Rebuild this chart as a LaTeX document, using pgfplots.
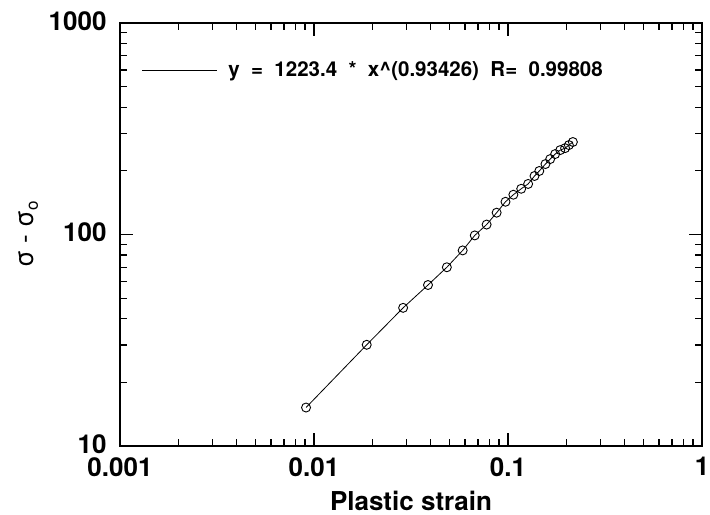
\documentclass[border=0pt]{standalone}
\usepackage{fontspec}
\setmainfont{TeX Gyre Heros}
\usepackage{pgfplots}
\pgfplotsset{compat=1.18}
\begin{document}
\begin{tikzpicture}
\begin{axis}[
  xmode=log, ymode=log,
  scale only axis, width=582pt, height=423pt,
  xmin=0.001, xmax=1, ymin=10, ymax=1000,
  xtick={0.001,0.01,0.1,1}, xticklabels={0.001,0.01,0.1,1},
  ytick={10,100,1000}, yticklabels={10,100,1000},
  minor xtick={0.002,0.003,0.004,0.005,0.006,0.007,0.008,0.009,0.02,0.03,0.04,0.05,0.06,0.07,0.08,0.09,0.2,0.3,0.4,0.5,0.6,0.7,0.8,0.9},
  minor ytick={20,30,40,50,60,70,80,90,200,300,400,500,600,700,800,900},
  tick align=inside, major tick length=13pt, minor tick length=7pt,
  every tick/.style={black, line width=1.3pt},
  axis line style={line width=1.8pt},
  tick label style={font=\fontsize{26}{26}\selectfont\bfseries},
  xticklabel style={yshift=-8pt},
  yticklabel style={xshift=-10pt, yshift=2pt},
  xlabel={\fontsize{26}{26}\selectfont\bfseries Plastic strain},
  xlabel style={at={(axis description cs:0.5,0)}, anchor=base, yshift=-65pt},
  ylabel={\fontsize{26}{26}\selectfont σ - σ\raisebox{-0.35ex}{\fontsize{17}{17}\selectfont o}},
  ylabel style={at={(axis description cs:-0.158,0.5)}, anchor=center},
  legend style={draw=none, fill=none, at={(axis description cs:0.037,0.889)}, anchor=west,
    font=\fontsize{20.5}{20.5}\selectfont\bfseries, inner sep=0pt},
  legend cell align=left,
  legend image code/.code={\draw[black, line width=0.8pt] (0pt,0pt) -- (75pt,0pt); \path (84pt,0pt);},
]
\addlegendimage{black}
\addlegendentry{y\ \ =\ \ 1223.4\ \ *\ \ x\textasciicircum(0.93426)\ \ R=\ \ 0.99808}
\addplot[black, line width=0.8pt, mark=o, mark size=4.5pt, mark options={line width=0.9pt}, forget plot] table {
x y
0.0091 15.2
0.0187 30.1
0.0288 45.0
0.0387 57.7
0.0484 70.0
0.0584 84.1
0.0674 99.0
0.0776 111.4
0.0874 126.8
0.0971 142.8
0.1066 154.2
0.117 164.5
0.127 173.4
0.137 189.1
0.145 199.7
0.156 215.3
0.165 227.3
0.175 240.0
0.186 250.7
0.197 256.0
0.206 264.7
0.216 273.7
};
\end{axis}
\pgfresetboundingbox
\path[use as bounding box] ([xshift=-120pt,yshift=-69pt]current axis.south west) rectangle ([xshift=8pt,yshift=23pt]current axis.north east);
\end{tikzpicture}
\end{document}
